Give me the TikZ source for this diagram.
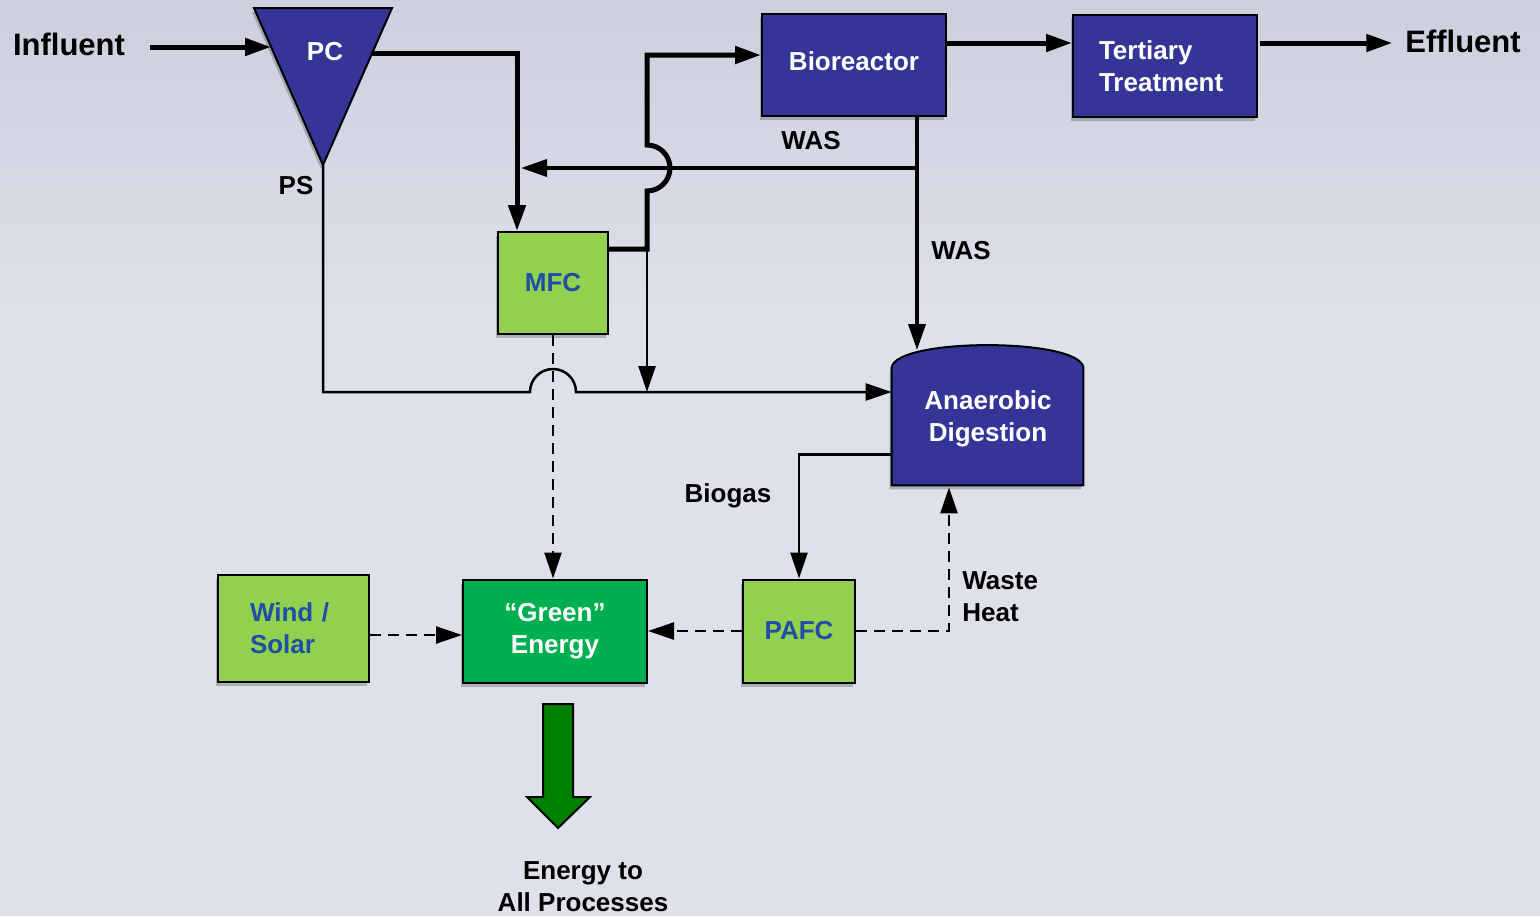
\documentclass[tikz,border=0pt]{standalone}
\usepackage{fontspec}
\setmainfont{Liberation Sans}
\usepackage{tikz}
\usetikzlibrary{positioning, calc, arrows.meta, shadows}
\definecolor{plantBlue}{RGB}{53,53,152}
\definecolor{cellGreen}{RGB}{146,208,80}
\definecolor{energyGreen}{RGB}{0,176,80}
\definecolor{arrowGreen}{RGB}{0,128,0}
\definecolor{labelBlue}{RGB}{31,78,165}
\definecolor{backTop}{RGB}{204,208,222}
\definecolor{backBottom}{RGB}{222,225,234}
\tikzstyle{flowDiagram} = [x = .5pt, y = -.5pt, >={Triangle[length=13pt, width=8.5pt]}]
\tikzstyle{boxShadow} = [drop shadow={shadow xshift=-1pt, shadow yshift=-2pt, opacity=.22, fill=black}]
\tikzstyle{boxFont} = [font=\bfseries\fontsize{13}{16}\selectfont]
\tikzstyle{plantShape} = [draw=black, line width=1pt, fill=plantBlue]
\tikzstyle{plantBox} = [plantShape, boxShadow, boxFont, text=white, minimum width=92pt, minimum height=51pt, inner sep=0pt]
\tikzstyle{cellBox} = [draw=black, line width=1pt, fill=cellGreen, boxShadow, boxFont, text=labelBlue, inner sep=0pt]
\tikzstyle{energyBox} = [draw=black, line width=1pt, fill=energyGreen, boxShadow, boxFont, text=white, inner sep=0pt]
\tikzstyle{flowLabel} = [boxFont, text=black]
\tikzstyle{endLabel} = [font=\bfseries\fontsize{15.5}{18}\selectfont, text=black]
\tikzstyle{heavyFlow} = [line width=2.5pt, ->]
\tikzstyle{sludgeFlow} = [line width=1.75pt, ->]
\tikzstyle{lightFlow} = [line width=1.25pt, ->]
\tikzstyle{energyFlow} = [line width=1.25pt, dash pattern=on 5.5pt off 3.5pt, ->]

\begin{document}
\begin{tikzpicture}[flowDiagram]
  % background
  \useasboundingbox (0,0) rectangle (1540,916);
  \fill [backBottom] (0,0) rectangle (1540,916);
  \shade [top color=backTop, bottom color=backBottom] (0,0) rectangle (1540,330);

  % primary clarifier
  \coordinate (pcLeft) at (254,8);
  \coordinate (pcRight) at (392,8);
  \coordinate (pcTip) at (323,165);
  \coordinate (pcIn) at (271,47);
  \coordinate (pcOut) at (372,53);
  \filldraw [plantShape, boxShadow] (pcLeft) -- (pcRight) -- (pcTip) -- cycle;
  \node [boxFont, text=white] (pc) at (325,52) {PC};

  % process units
  \node [plantBox] (bio) at (854,65) {\raisebox{4pt}{Bioreactor}};
  \node [plantBox, align=left, text width=66pt] (tert) at (1165,66) {Tertiary\\Treatment};
  \node [cellBox, minimum width=55pt, minimum height=51pt] (mfc) at (553,283) {MFC};
  \node [cellBox, minimum width=56pt, minimum height=51.5pt] (pafc) at (799,631) {PAFC};
  \node [energyBox, minimum width=92pt, minimum height=51.5pt, align=center] (green) at (555,631) {“Green”\\Energy};
  \node [cellBox, minimum width=75.5pt, minimum height=53.5pt, align=left, text width=43pt] (wind) at (293,628) {Wind /\\Solar};

  % digester
  \node [minimum width=95.5pt, minimum height=58.5pt, inner sep=0pt] (ad) at (987.5,426.5) {};
  \filldraw [plantShape, boxShadow] (ad.south west) -- (ad.north west)
    .. controls +(4,-30) and +(-4,-30) .. (ad.north east) -- (ad.south east) -- cycle;
  \node [boxFont, text=white, align=center] (adText) at (988,419) {Anaerobic\\Digestion};

  % labels
  \node [endLabel] (influent) at (69,44) {Influent};
  \node [endLabel] (effluent) at (1463,41) {Effluent};
  \node [flowLabel] (psLabel) at (296,186) {PS};
  \node [flowLabel] (wasTop) at (811,141) {WAS};
  \node [flowLabel] (wasSide) at (961,251) {WAS};
  \node [flowLabel] (biogas) at (728,496) {Biogas};
  \node [flowLabel, anchor=west, align=left, inner sep=0pt] (heat) at (962,597) {Waste\\Heat};
  \node [flowLabel, align=center] (allProc) at (583,887) {Energy to\\All Processes};

  % main line
  \draw [heavyFlow, shorten <=9pt] (influent.east |- pcIn) -- (pcIn);
  \draw [heavyFlow] (pcOut) -| ($(mfc.north)+(-36,0)$);
  \coordinate (mfcJoint) at (647,249);
  \coordinate (wasJoint) at (917,168);
  \draw [heavyFlow] ($(mfc.east)+(0,-34)$) -- (mfcJoint) -- ($(mfcJoint |- wasJoint)+(0,23)$)
    arc [start angle=-90, end angle=90, radius=11.5pt] |- ($(bio.west)+(0,-10)$);
  \draw [heavyFlow] ($(bio.east)+(0,-22)$) -- ($(tert.west)+(0,-23)$);
  \draw [heavyFlow] ($(tert.east)+(2,-23)$) -- ($(effluent.west)+(-6,2)$);

  % sludge lines
  \coordinate (wasEnd) at (917,350);
  \draw [sludgeFlow] (wasJoint |- bio.south) -- (wasEnd);
  \draw [sludgeFlow] (wasJoint) -- ($(wasJoint -| mfc.north)+(-32,0)$);
  \coordinate (psJump) at (530,392);
  \draw [lightFlow] (pcTip) |- (psJump)
    arc [start angle=180, end angle=0, radius=11.5pt] -- (psJump -| ad.west);
  \draw [lightFlow] (mfcJoint) -- (mfcJoint |- psJump);
  \draw [lightFlow] ($(ad.west)+(0,28)$) -| (pafc.north);

  % energy lines
  \draw [energyFlow] (mfc.south) -- (mfc.south |- green.north);
  \draw [energyFlow] (pafc.west) -- (green.east);
  \draw [energyFlow] ($(wind.east)+(0,7)$) -- ($(wind.east -| green.west)+(0,7)$);
  \draw [energyFlow] (pafc.east) -| ($(ad.south)+(-38.5,2)$);

  % energy to all processes
  \filldraw [fill=arrowGreen, draw=black, line width=1pt]
    (543,704) -- (573,704) -- (573,797) -- (590,797) -- (558,828) -- (527,797) -- (543,797) -- cycle;
\end{tikzpicture}
\end{document}
